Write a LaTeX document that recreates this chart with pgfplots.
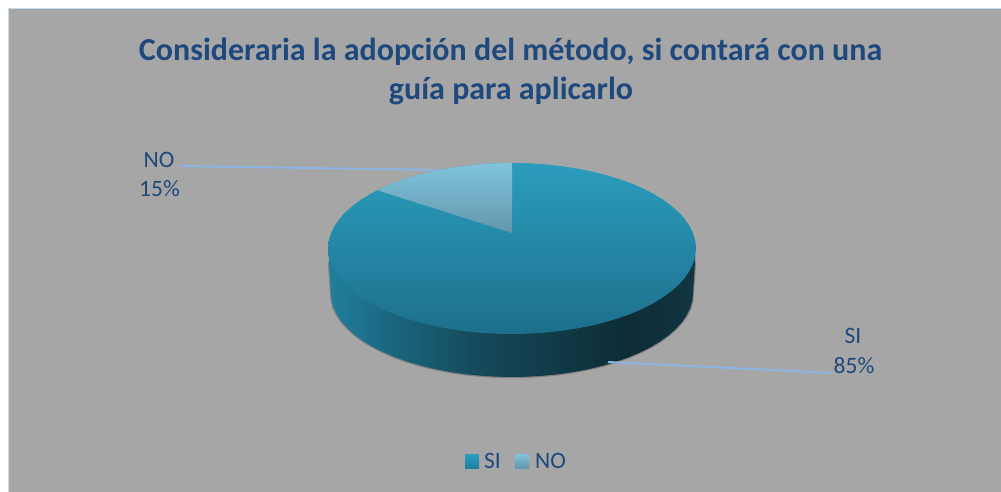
\documentclass[border=0pt]{standalone}
\usepackage{fontspec}
\setmainfont{Carlito}
\usepackage{pgfplots}
\pgfplotsset{compat=1.18}
\definecolor{titleblue}{HTML}{1F497D}
\definecolor{bgray}{HTML}{A6A6A6}
\definecolor{edgeblue}{HTML}{C6D9F1}
\definecolor{leader}{HTML}{8DB3E2}
\definecolor{sa}{HTML}{1F7F9C}
\definecolor{sb}{HTML}{1B6880}
\definecolor{sc}{HTML}{154A5B}
\definecolor{sd}{HTML}{113B49}
\definecolor{se}{HTML}{0D2C36}
\definecolor{sf}{HTML}{113642}
\definecolor{sitop}{HTML}{2B9DBD}
\definecolor{sibot}{HTML}{1D6F8B}
\definecolor{notop}{HTML}{80C4DC}
\definecolor{nobot}{HTML}{6397AD}
\definecolor{keytop}{HTML}{2BA0C2}
\pgfdeclarehorizontalshading{pieside}{100bp}{%
 color(0bp)=(sa); color(25bp)=(sa); color(33bp)=(sb);
 color(45bp)=(sc); color(55bp)=(sd); color(66bp)=(se);
 color(75bp)=(sf); color(100bp)=(sf)}
\begin{document}
\begin{tikzpicture}
\begin{axis}[
  scale only axis, width=1001pt, height=492pt,
  xmin=0, xmax=1001, ymin=0, ymax=492, y dir=reverse,
  hide axis, clip=false,
  every axis plot/.append style={mark=none},
]
% page and chart area
\addplot[draw=none, fill=white] coordinates {(0,0)(1001,0)(1001,492)(0,492)} --cycle;
\addplot[draw=none, fill=edgeblue] coordinates {(8,8)(1001,8)(1001,492)(8,492)} --cycle;
\addplot[draw=none, fill=bgray] coordinates {(9,9)(1001,9)(1001,492)(9,492)} --cycle;
% soft shadow of the side
\addplot[draw=black, draw opacity=0.22, line width=2.4pt] coordinates {(329,262)(331.7,300.8)(333.7,308)(337.2,315.1)(341.9,322.1)(348,328.8)(355.3,335.25)(363.7,341.4)(373.4,347.2)(384,352.5)(395.7,357.5)(408.2,361.9)(421.5,365.8)(435.5,369.2)(450.1,372)(465.2,374.2)(480.6,375.7)(496.2,376.7)(512,377)(527.8,376.7)(543.4,375.7)(558.8,374.2)(573.9,372)(588.5,369.2)(602.5,365.8)(615.8,361.9)(628.3,357.5)(640,352.5)(650.6,347.2)(660.3,341.4)(668.7,335.25)(676,328.8)(682.1,322.1)(686.8,315.1)(690.3,308)(692.3,300.8)(695,262)};
% side of the pie
\addplot[draw=none, shading=pieside] coordinates {(695.3,256)(694.4,272)(693,293.5)(692.3,300.8)(690.3,308)(686.8,315.1)(682.1,322.1)(676,328.8)(668.7,335.25)(660.3,341.4)(650.6,347.2)(640,352.5)(628.3,357.5)(615.8,361.9)(602.5,365.8)(588.5,369.2)(573.9,372)(558.8,374.2)(543.4,375.7)(527.8,376.7)(512,377)(496.2,376.7)(480.6,375.7)(465.2,374.2)(450.1,372)(435.5,369.2)(421.5,365.8)(408.2,361.9)(395.7,357.5)(384,352.5)(373.4,347.2)(363.7,341.4)(355.3,335.25)(348,328.8)(341.9,322.1)(337.2,315.1)(333.7,308)(331.7,300.8)(331,293.5)(329.6,272)(328.7,256)} --cycle;
% top of the pie: SI 85 %
\addplot[draw=none, top color=sitop, bottom color=sibot] coordinates {(512,163)(528,163.3)(543.9,164.3)(559.6,165.9)(574.9,168.2)(589.8,171)(604,174.5)(617.5,178.5)(630.3,183)(642.1,188)(652.9,193.5)(662.7,199.5)(671.3,205.75)(678.8,212.4)(684.9,219.3)(689.7,226.4)(693.2,233.7)(695.3,241)(696,248.5)(695.3,256)(693.2,263.3)(689.7,270.6)(684.9,277.7)(678.8,284.6)(671.3,291.25)(662.7,297.5)(652.9,303.5)(642.1,309)(630.3,314)(617.5,318.5)(604,322.5)(589.8,326)(574.9,328.8)(559.6,331.1)(543.9,332.7)(528,333.7)(512,334)(496,333.7)(480.1,332.7)(464.4,331.1)(449.1,328.8)(434.2,326)(420,322.5)(406.5,318.5)(393.7,314)(381.9,309)(371.1,303.5)(361.3,297.5)(352.7,291.25)(345.2,284.6)(339.1,277.7)(334.3,270.6)(330.8,263.3)(328.7,256)(328,248.5)(328.7,241)(330.8,233.7)(334.3,226.4)(339.1,219.3)(345.2,212.4)(352.7,205.75)(361.3,199.5)(371.1,193.5)(381.9,188)(393.7,183)(406.5,178.5)(420,174.5)(434.2,171)(449.1,168.2)(464.4,165.9)(480.1,164.3)(496,163.3)} --cycle;
% top of the pie: NO 15 %
\addplot[draw=none, top color=notop, bottom color=nobot] coordinates {(512,233)(378,190.5)(381.9,188)(393.7,183)(406.5,178.5)(420,174.5)(434.2,171)(449.1,168.2)(464.4,165.9)(480.1,164.3)(496,163.3)(512,163)} --cycle;
% leader lines
\addplot[draw=leader, line width=2pt] coordinates {(179,166)(438,170)};
\addplot[draw=leader, line width=2pt] coordinates {(608,362)(833,373)};
% legend keys
\addplot[draw=none, top color=keytop, bottom color=sa] coordinates {(465,454)(479,454)(479,468)(465,468)} --cycle;
\addplot[draw=none, top color=notop, bottom color=nobot] coordinates {(515,454)(529,454)(529,468)(515,468)} --cycle;
% texts
\node[anchor=base, text=titleblue, font=\fontsize{32}{38}\selectfont\bfseries] at (axis cs:510.5,61) {Consideraria la adopción del método, si contará con una};
\node[anchor=base, text=titleblue, font=\fontsize{32}{38}\selectfont\bfseries] at (axis cs:511,100) {guía para aplicarlo};
\node[anchor=base, text=titleblue, font=\fontsize{23.5}{28}\selectfont] at (axis cs:159,167.5) {NO};
\node[anchor=base, text=titleblue, font=\fontsize{23.5}{28}\selectfont] at (axis cs:159.5,196.5) {15\%};
\node[anchor=base, text=titleblue, font=\fontsize{23.5}{28}\selectfont] at (axis cs:853,343) {SI};
\node[anchor=base, text=titleblue, font=\fontsize{23.5}{28}\selectfont] at (axis cs:854,373) {85\%};
\node[anchor=base west, inner sep=0pt, text=titleblue, font=\fontsize{23.5}{28}\selectfont] at (axis cs:484,468) {SI};
\node[anchor=base west, inner sep=0pt, text=titleblue, font=\fontsize{23.5}{28}\selectfont] at (axis cs:535,468) {NO};
\end{axis}
\end{tikzpicture}
\end{document}
